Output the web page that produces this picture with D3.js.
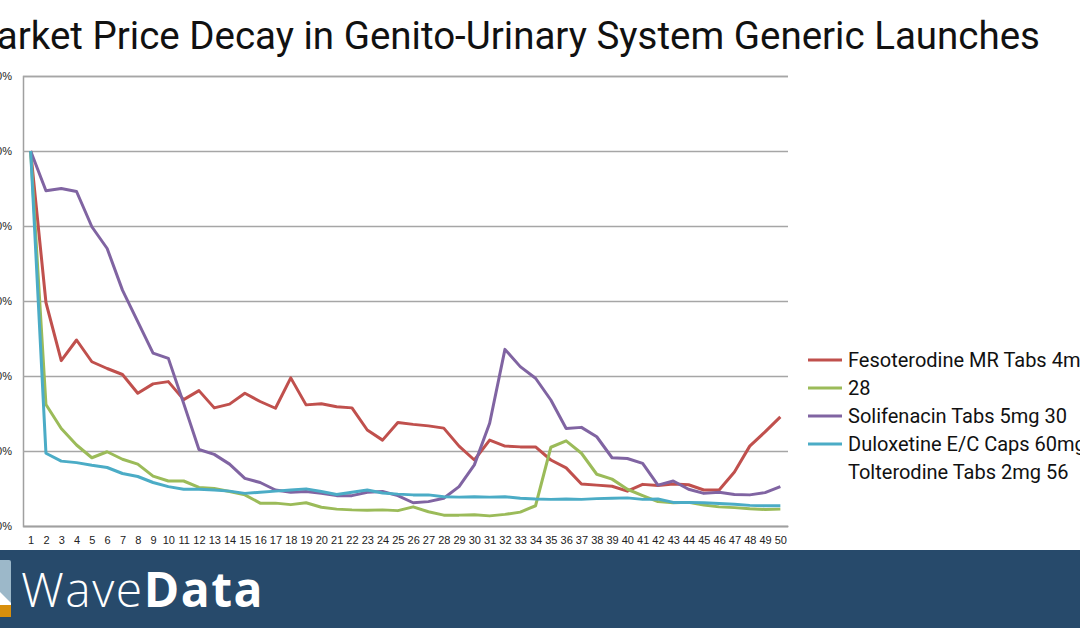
<!DOCTYPE html>
<html>
<head>
<meta charset="utf-8">
<script src="https://cdn.jsdelivr.net/npm/d3@7"></script>
<style>
html,body{margin:0;padding:0;background:#fff;overflow:hidden;}
svg{display:block;}
</style>
</head>
<body>
<svg id="chart" width="1080" height="628"></svg>
<script>
// ---- Data ----
const categories = d3.range(1, 51).map(String);
const yTicks = [0, 20, 40, 60, 80, 100, 120];
const seriesNames = ["Fesoterodine MR Tabs 4mg", "28", "Solifenacin Tabs 5mg 30", "Duloxetine E/C Caps 60mg 28", "Tolterodine Tabs 2mg 56"];
const seriesColors = ["#c0504d", "#9bbb59", "#8064a2", "#4bacc6"];

const fesoterodine = [100, 59.6, 44.1, 49.6, 43.8, 42.0, 40.4, 35.4, 37.9, 38.5,
  33.7, 36.1, 31.5, 32.5, 35.4, 33.2, 31.4, 39.5, 32.3, 32.6,
  31.8, 31.5, 25.6, 22.9, 27.6, 27.1, 26.7, 26.1, 21.3, 17.6,
  22.9, 21.3, 21.1, 21.1, 17.6, 15.5, 11.2, 10.9, 10.6, 9.3,
  11.1, 10.8, 11.2, 11.0, 9.6, 9.6, 14.4, 21.3, 25.1, 29.1];
const tabs28 = [100, 32.4, 26.0, 21.6, 18.2, 19.8, 17.8, 16.5, 13.3, 12.0,
  12.0, 10.3, 10.0, 9.2, 8.3, 6.1, 6.1, 5.7, 6.2, 5.0,
  4.5, 4.3, 4.2, 4.3, 4.1, 5.1, 3.8, 2.9, 2.9, 3.0,
  2.7, 3.1, 3.7, 5.4, 21.0, 22.7, 19.4, 13.8, 12.5, 9.8,
  8.1, 6.5, 6.2, 6.3, 5.6, 5.1, 4.9, 4.6, 4.4, 4.5];
const solifenacin = [100, 89.4, 90.0, 89.2, 79.8, 74.0, 62.9, 54.5, 46.1, 44.7,
  32.7, 20.4, 19.1, 16.5, 12.7, 11.6, 9.6, 9.0, 9.2, 8.7,
  8.1, 8.1, 9.0, 9.2, 8.1, 6.2, 6.5, 7.4, 10.5, 16.3,
  27.4, 47.1, 42.5, 39.4, 33.6, 26.0, 26.3, 23.8, 18.2, 18.0,
  16.7, 10.9, 12.0, 9.8, 8.7, 9.0, 8.4, 8.3, 8.9, 10.5];
const duloxetine = [100, 19.4, 17.3, 16.9, 16.2, 15.6, 14.0, 13.2, 11.6, 10.5,
  9.8, 9.8, 9.6, 9.3, 8.7, 9.0, 9.3, 9.6, 9.9, 9.2,
  8.4, 9.0, 9.6, 8.8, 8.5, 8.3, 8.3, 7.8, 7.7, 7.8,
  7.7, 7.8, 7.4, 7.2, 7.1, 7.2, 7.1, 7.3, 7.4, 7.5,
  7.1, 7.2, 6.3, 6.3, 6.2, 6.0, 5.8, 5.5, 5.4, 5.4];
const seriesValues = [fesoterodine, tabs28, solifenacin, duloxetine];

// ---- Layout ----
const svg = d3.select("#chart");
const plot = {left: 23, right: 788, top: 76, bottom: 526};

const x = d3.scalePoint().domain(categories).range([plot.left, plot.right]).padding(0.5);
const y = d3.scaleLinear().domain([0, 120]).range([plot.bottom, plot.top]);

// Title
svg.append("text")
  .attr("x", 1040).attr("y", 49)
  .attr("text-anchor", "end")
  .attr("font-family", "Roboto, sans-serif")
  .attr("font-size", 38.5)
  .attr("fill", "#111")
  .text("Market Price Decay in Genito-Urinary System Generic Launches");

// Gridlines
const yAxis = d3.axisLeft(y).tickValues(yTicks).tickSize(-(plot.right - plot.left)).tickFormat(d => d + "%").tickPadding(11);
const gy = svg.append("g").attr("transform", `translate(${plot.left},0)`).call(yAxis);
gy.select(".domain").attr("stroke", "#a0a0a0").attr("stroke-width", 1.5);
gy.selectAll(".tick line").attr("stroke", "#a6a6a6").attr("stroke-width", 1.5);
gy.selectAll(".tick text").attr("font-family", "'Liberation Sans', Arial, sans-serif").attr("font-size", 11).attr("fill", "#222");

// X axis
const xAxis = d3.axisBottom(x).tickSize(0).tickPadding(10);
const gx = svg.append("g").attr("transform", `translate(0,${plot.bottom})`).call(xAxis);
gx.select(".domain").attr("stroke", "#a0a0a0").attr("stroke-width", 1.5);
gx.selectAll(".tick text").attr("font-family", "'Liberation Sans', Arial, sans-serif").attr("font-size", 11).attr("fill", "#222");

// Lines
const line = d3.line().x((d, i) => x(categories[i])).y(d => y(d));
seriesValues.forEach((vals, k) => {
  svg.append("path")
    .datum(vals)
    .attr("fill", "none")
    .attr("stroke", seriesColors[k])
    .attr("stroke-width", 3)
    .attr("stroke-linejoin", "round")
    .attr("d", line);
});

// Legend
const legend = svg.append("g").attr("transform", "translate(808,360)");
seriesNames.forEach((name, k) => {
  const g = legend.append("g").attr("transform", `translate(0,${k * 28})`);
  if (k < seriesColors.length) {
    g.append("line").attr("x1", 0).attr("x2", 34).attr("y1", 0).attr("y2", 0)
      .attr("stroke", seriesColors[k]).attr("stroke-width", 3);
  }
  g.append("text").attr("x", 40).attr("y", 0).attr("dy", "0.35em")
    .attr("font-family", "Roboto, sans-serif").attr("font-size", 20).attr("fill", "#111")
    .text(name);
});

// Banner
svg.append("rect").attr("x", 0).attr("y", 550).attr("width", 1080).attr("height", 78).attr("fill", "#274a6b");
// Logo icon
const logo = svg.append("g");
logo.append("rect").attr("x", -10).attr("y", 560).attr("width", 21).attr("height", 57).attr("rx", 2).attr("fill", "#9cb8c9");
logo.append("path").attr("d", "M-10,600 L0,592 L4,596 L11,603 L11,617 L-10,617 Z").attr("fill", "#ffffff");
logo.append("rect").attr("x", -10).attr("y", 605).attr("width", 21).attr("height", 12).attr("fill", "#d88f0c");
const brand = svg.append("text").attr("x", 21).attr("y", 607)
  .attr("font-family", "'Open Sans', sans-serif").attr("font-size", 48).attr("letter-spacing", 1.5).attr("fill", "#ffffff");
brand.append("tspan").attr("font-weight", 300).text("Wave");
brand.append("tspan").attr("font-weight", 700).text("Data");
</script>
</body>
</html>
